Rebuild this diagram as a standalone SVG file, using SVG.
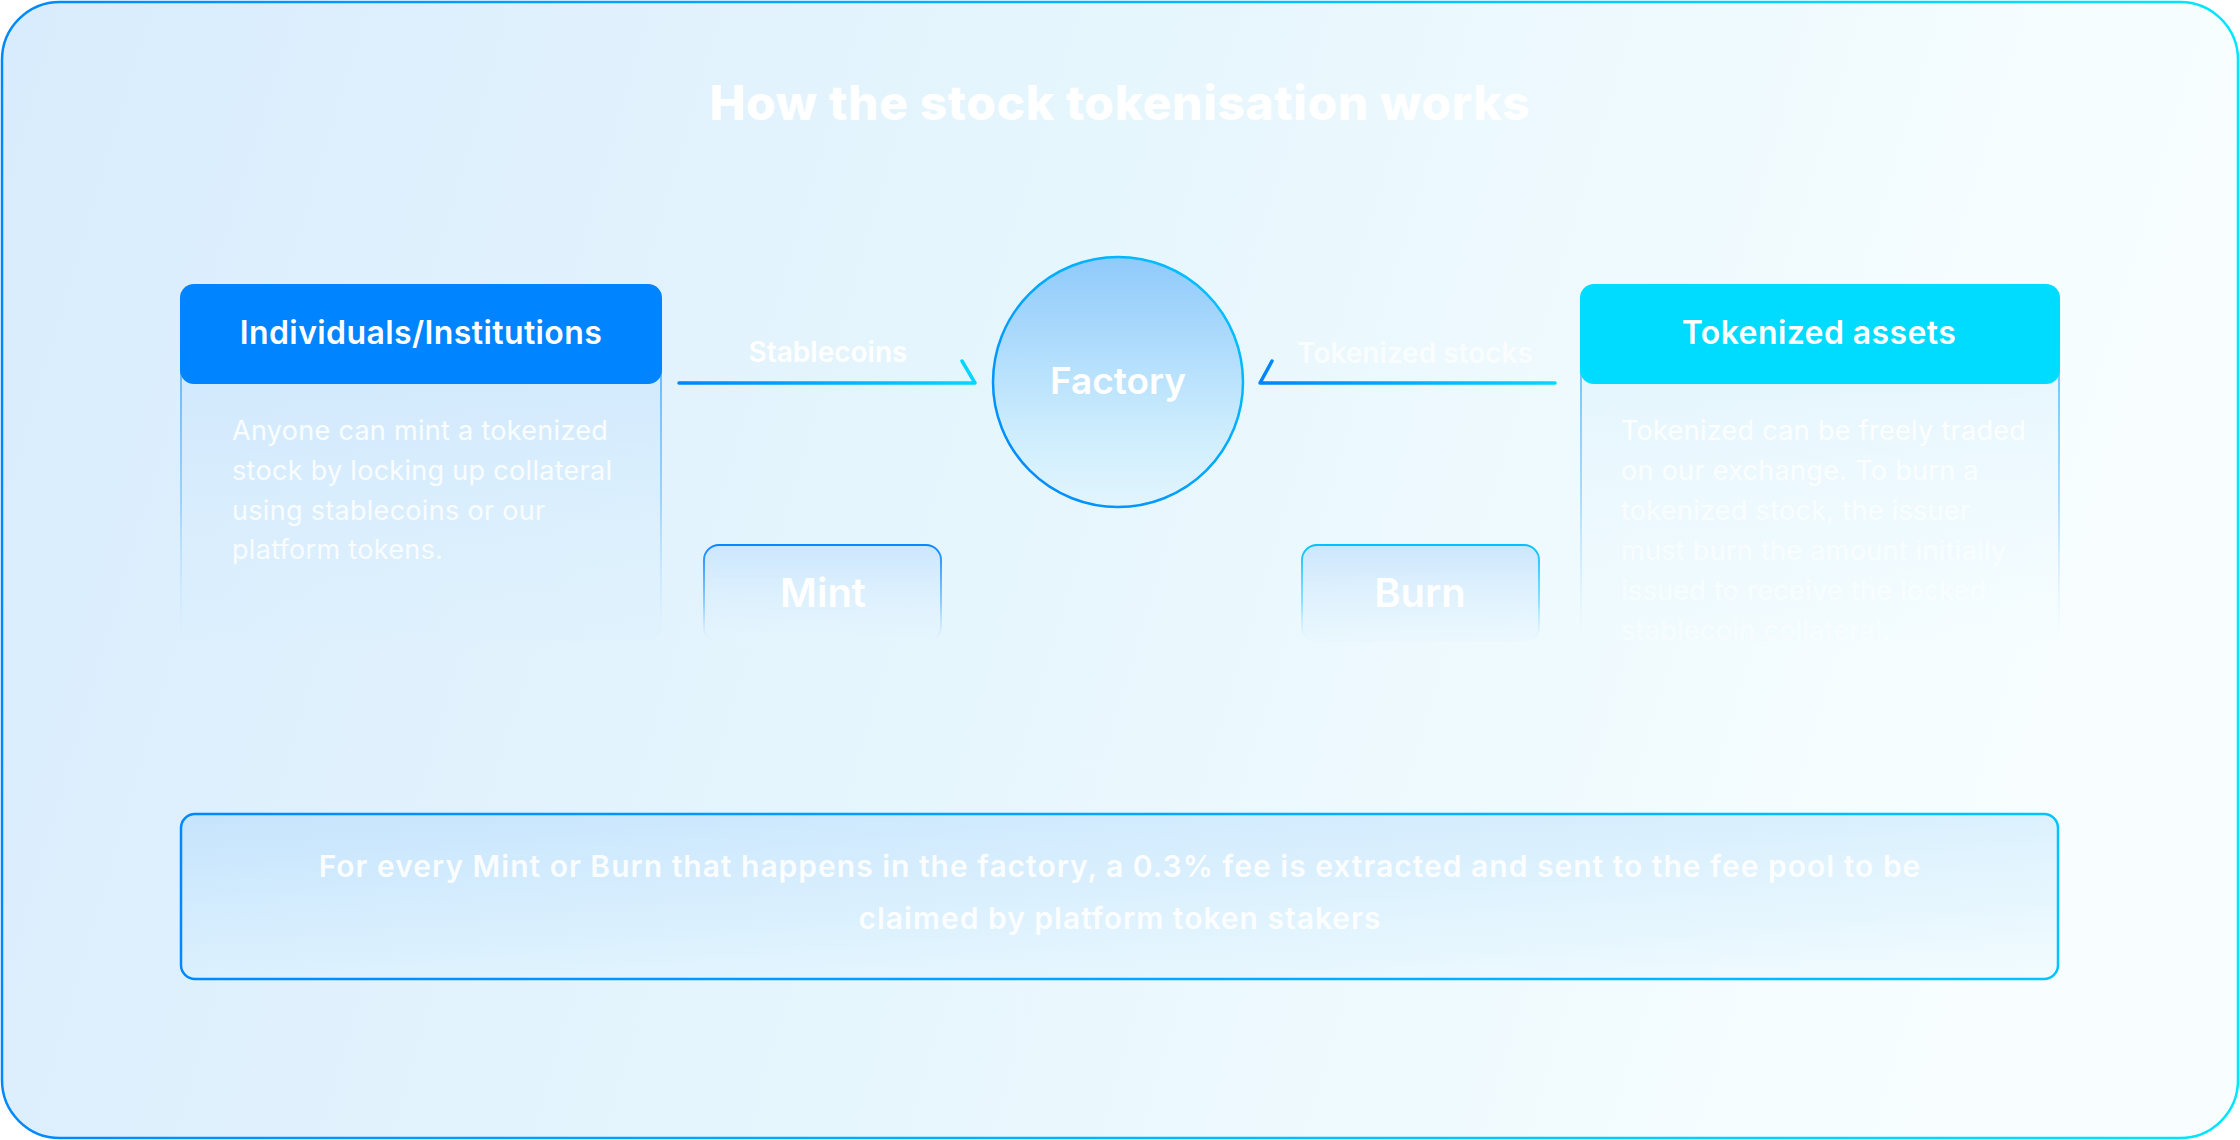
<svg xmlns="http://www.w3.org/2000/svg" width="2240" height="1140" viewBox="0 0 2240 1140">
<defs>
<linearGradient id="bg" x1="0" y1="0" x2="1" y2="0.15">
<stop offset="0" stop-color="#D9ECFD"/>
<stop offset="0.5" stop-color="#E6F6FD"/>
<stop offset="1" stop-color="#F8FEFF"/>
</linearGradient>
<linearGradient id="frameStroke" x1="0" y1="0" x2="1" y2="0">
<stop offset="0" stop-color="#0088FF"/>
<stop offset="1" stop-color="#00E6FF"/>
</linearGradient>
<linearGradient id="cardFill" x1="0" y1="0" x2="0" y2="1">
<stop offset="0" stop-color="#C9E5FD" stop-opacity="0.9"/>
<stop offset="1" stop-color="#D9EEFD" stop-opacity="0.2"/>
</linearGradient>
<linearGradient id="cardFillR" x1="0" y1="0" x2="0" y2="1">
<stop offset="0" stop-color="#DDF2FD" stop-opacity="0.9"/>
<stop offset="1" stop-color="#EEFAFF" stop-opacity="0.2"/>
</linearGradient>
<linearGradient id="cardStrokeL" x1="0" y1="0" x2="0" y2="1">
<stop offset="0" stop-color="#40AAFF"/>
<stop offset="0.6" stop-color="#7FC6FF" stop-opacity="0.7"/>
<stop offset="1" stop-color="#C0E2FF" stop-opacity="0"/>
</linearGradient>
<linearGradient id="cardStrokeR" x1="0" y1="0" x2="0" y2="1">
<stop offset="0" stop-color="#40B8FF"/>
<stop offset="0.6" stop-color="#8FD0FF" stop-opacity="0.7"/>
<stop offset="1" stop-color="#C8EAFF" stop-opacity="0"/>
</linearGradient>
<linearGradient id="mintStroke" x1="0" y1="0" x2="0" y2="1">
<stop offset="0" stop-color="#0A86FF"/>
<stop offset="0.6" stop-color="#6CBBFF" stop-opacity="0.7"/>
<stop offset="1" stop-color="#B8DEFF" stop-opacity="0"/>
</linearGradient>
<linearGradient id="burnStroke" x1="0" y1="0" x2="0" y2="1">
<stop offset="0" stop-color="#00C2FF"/>
<stop offset="0.6" stop-color="#70D6FF" stop-opacity="0.7"/>
<stop offset="1" stop-color="#C0EEFF" stop-opacity="0"/>
</linearGradient>
<linearGradient id="boxFill" x1="0" y1="0" x2="0" y2="1">
<stop offset="0" stop-color="#CBE6FD"/>
<stop offset="1" stop-color="#E6F5FE" stop-opacity="0.4"/>
</linearGradient>
<linearGradient id="circleFill" x1="0" y1="0" x2="0" y2="1">
<stop offset="0" stop-color="#8FCAFB"/>
<stop offset="0.7" stop-color="#CDEDFD"/>
<stop offset="1" stop-color="#E2F5FE"/>
</linearGradient>
<linearGradient id="circleStroke" x1="0" y1="1" x2="1" y2="0">
<stop offset="0" stop-color="#0084FF"/>
<stop offset="1" stop-color="#00C8FF"/>
</linearGradient>
<linearGradient id="lineL" gradientUnits="userSpaceOnUse" x1="679" y1="0" x2="975" y2="0">
<stop offset="0" stop-color="#0084FF"/>
<stop offset="1" stop-color="#00D8FF"/>
</linearGradient>
<linearGradient id="lineR" gradientUnits="userSpaceOnUse" x1="1260" y1="0" x2="1555" y2="0">
<stop offset="0" stop-color="#0084FF"/>
<stop offset="1" stop-color="#00D8FF"/>
</linearGradient>
<linearGradient id="footFill" x1="0" y1="0" x2="1" y2="1">
<stop offset="0" stop-color="#C6E4FD"/>
<stop offset="0.6" stop-color="#E0F3FE"/>
<stop offset="1" stop-color="#F2FCFF"/>
</linearGradient>
<linearGradient id="footStroke" x1="0" y1="0" x2="1" y2="0">
<stop offset="0" stop-color="#0088FF"/>
<stop offset="1" stop-color="#00C4FF"/>
</linearGradient>
<linearGradient id="textFadeL" gradientUnits="userSpaceOnUse" x1="0" y1="415" x2="0" y2="565">
<stop offset="0" stop-color="#FFFFFF" stop-opacity="0.9"/>
<stop offset="1" stop-color="#FFFFFF" stop-opacity="0.8"/>
</linearGradient>
<linearGradient id="textFadeR" gradientUnits="userSpaceOnUse" x1="0" y1="415" x2="0" y2="645">
<stop offset="0" stop-color="#FFFFFF" stop-opacity="0.9"/>
<stop offset="1" stop-color="#FFFFFF" stop-opacity="0.4"/>
</linearGradient>
</defs>
<style>
.title{font-family:Inter,"Liberation Sans",sans-serif;font-weight:800;font-size:48px;letter-spacing:0.6px;fill:#FFFFFF;text-anchor:middle}
.head{font-family:Inter,"Liberation Sans",sans-serif;font-weight:600;font-size:32px;letter-spacing:0.4px;fill:#FFFFFF;text-anchor:middle}
.body{font-family:Inter,"Liberation Sans",sans-serif;font-weight:400;font-size:27px;letter-spacing:0.3px}
.lbl{font-family:Inter,"Liberation Sans",sans-serif;font-weight:600;font-size:28px;fill:#FFFFFF;text-anchor:middle}
.big{font-family:Inter,"Liberation Sans",sans-serif;font-weight:600;font-size:40px;fill:#FFFFFF;text-anchor:middle}
.fac{font-size:37px}
.foot{font-family:Inter,"Liberation Sans",sans-serif;font-weight:600;font-size:30px;letter-spacing:1px;fill:#FFFFFF;fill-opacity:0.92;text-anchor:middle}
.conn{fill:none;stroke-width:3.5;stroke-linecap:round;stroke-linejoin:round}
</style>

<g id="frame">
<rect x="2" y="2" width="2236" height="1136" rx="58" fill="url(#bg)" stroke="url(#frameStroke)" stroke-width="2.5"/>
</g>

<g id="title">
<text class="title" x="1120" y="120">How the stock tokenisation works</text>
</g>

<g id="individuals">
<rect x="181" y="290" width="480" height="351" rx="14" fill="url(#cardFill)" stroke="url(#cardStrokeL)" stroke-width="2"/>
<rect x="180" y="284" width="482" height="100" rx="14" fill="#0084FF"/>
<text class="head" x="421" y="344">Individuals/Institutions</text>
<text class="body" fill="url(#textFadeL)">
<tspan x="232" y="440">Anyone can mint a tokenized</tspan>
<tspan x="232" y="480">stock by locking up collateral</tspan>
<tspan x="232" y="520">using stablecoins or our</tspan>
<tspan x="232" y="559">platform tokens.</tspan>
</text>
</g>

<g id="factory">
<circle cx="1118" cy="382" r="125" fill="url(#circleFill)" stroke="url(#circleStroke)" stroke-width="2.5"/>
<text class="big fac" x="1118" y="394">Factory</text>
</g>

<g id="mint">
<rect x="704" y="545" width="237" height="97" rx="15" fill="url(#boxFill)" stroke="url(#mintStroke)" stroke-width="2"/>
<text class="big" x="823" y="607">Mint</text>
</g>

<g id="burn">
<rect x="1302" y="545" width="237" height="97" rx="15" fill="url(#boxFill)" stroke="url(#burnStroke)" stroke-width="2"/>
<text class="big" x="1420" y="607">Burn</text>
</g>

<g id="tokenized-assets">
<rect x="1581" y="290" width="478" height="351" rx="14" fill="url(#cardFillR)" stroke="url(#cardStrokeR)" stroke-width="2"/>
<rect x="1580" y="284" width="480" height="100" rx="14" fill="#00DCFF"/>
<text class="head" x="1819" y="344">Tokenized assets</text>
<text class="body" fill="url(#textFadeR)">
<tspan x="1621" y="440">Tokenized can be freely traded</tspan>
<tspan x="1621" y="480">on our exchange. To burn a</tspan>
<tspan x="1621" y="520">tokenized stock, the issuer</tspan>
<tspan x="1621" y="560">must burn the amount initially</tspan>
<tspan x="1621" y="600">issued to receive the locked</tspan>
<tspan x="1621" y="640">stablecoin collateral.</tspan>
</text>
</g>

<g id="connectors">
<path class="conn" d="M679,383 H975 L962,361" stroke="url(#lineL)"/>
<text class="lbl" x="828" y="362">Stablecoins</text>
<path class="conn" d="M1555,383 H1260 L1272,361" stroke="url(#lineR)"/>
<text class="lbl" x="1415" y="363" fill-opacity="0.75">Tokenized stocks</text>
</g>

<g id="fee-note">
<rect x="181" y="814" width="1877" height="165" rx="14" fill="url(#footFill)" stroke="url(#footStroke)" stroke-width="2.5"/>
<text class="foot" x="1120" y="877">For every Mint or Burn that happens in the factory, a 0.3% fee is extracted and sent to the fee pool to be</text>
<text class="foot" x="1120" y="929" letter-spacing="1.2">claimed by platform token stakers</text>
</g>
</svg>
